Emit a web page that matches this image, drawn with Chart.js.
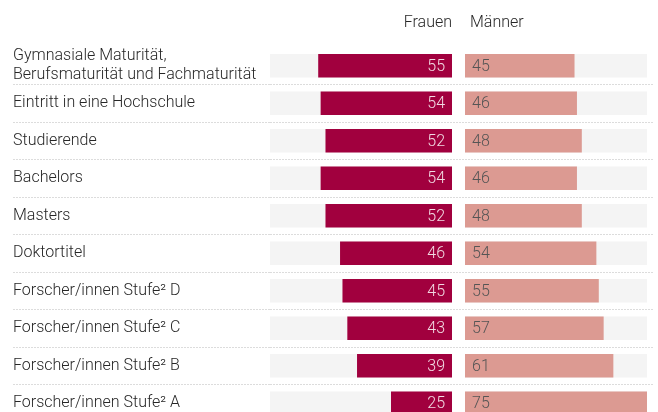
<!DOCTYPE html>
<html lang="de">
<head>
<meta charset="utf-8">
<title>Frauen und Männer</title>
<script src="https://cdn.jsdelivr.net/npm/chart.js@4.4.1/dist/chart.umd.min.js"></script>
<style>
  body { margin: 0; background: #fff; overflow: hidden; }
  #wrap { position: relative; width: 658px; height: 412px; overflow: hidden; }
  canvas { display: block; }
</style>
</head>
<body>
<div id="wrap"><canvas id="chart" width="658" height="430"></canvas></div>
<script>
// data (percent)
const categories = [
    ['Gymnasiale Maturität,', 'Berufsmaturität und Fachmaturität'],
    'Eintritt in eine Hochschule',
    'Studierende',
    'Bachelors',
    'Masters',
    'Doktortitel',
    'Forscher/innen Stufe² D',
    'Forscher/innen Stufe² C',
    'Forscher/innen Stufe² B',
    'Forscher/innen Stufe² A'
];
const frauen = [55, 54, 52, 54, 52, 46, 45, 43, 39, 25];
const maenner = [45, 46, 48, 46, 48, 54, 55, 57, 61, 75];
const seriesNames = ['Frauen', 'Männer'];
const axisMax = 75;
const track = categories.map(() => axisMax); // grey background track

// layout
const LABEL_W = 257;   // width of the label column
const PANEL_W = 182;   // width of each half
const GAP = 13;        // white gap between the halves
const FONT = 'Roboto';
const FONT_SIZE = 16;

const COL_F = '#a1003e';
const COL_M = '#dc9a92';
const COL_TRACK = '#f4f4f4';
const COL_TEXT = '#262626';
const COL_DOTS = '#dcdcdc';

// put the two x scales side by side with a gap in between
const splitPanels = {
    id: 'splitPanels',
    afterLayout(chart) {
        const area = chart.chartArea;
        const xF = chart.scales.xF;
        const xM = chart.scales.xM;
        xF.left = area.left;
        xF.right = area.left + PANEL_W;
        xF.width = PANEL_W;
        xM.left = xF.right + GAP;
        xM.right = xM.left + PANEL_W;
        xM.width = PANEL_W;
        xF.configure();
        xM.configure();
    },
    afterDatasetsDraw(chart) {
        const ctx = chart.ctx;
        ctx.save();
        ctx.font = '300 ' + FONT_SIZE + 'px ' + FONT;
        ctx.textBaseline = 'middle';

        // value labels
        chart.getDatasetMeta(0).data.forEach(function(bar, i) {
            ctx.fillStyle = 'rgba(255,255,255,0.85)';
            ctx.textAlign = 'right';
            ctx.fillText(frauen[i], bar.base - 7, bar.y + 1);
        });
        chart.getDatasetMeta(1).data.forEach(function(bar, i) {
            ctx.fillStyle = '#555555';
            ctx.textAlign = 'left';
            ctx.fillText(maenner[i], bar.base + 7, bar.y + 1);
        });

        // column headers
        ctx.fillStyle = COL_TEXT;
        ctx.textAlign = 'right';
        ctx.fillText(seriesNames[0], chart.scales.xF.right, 23);
        ctx.textAlign = 'left';
        ctx.fillText(seriesNames[1], chart.scales.xM.left + 5, 23);
        ctx.restore();
    }
};

function initialize() {
    const config = {
        type: 'bar',
        data: {
            labels: categories,
            datasets: [
                { label: seriesNames[0], data: frauen, xAxisID: 'xF', backgroundColor: COL_F, order: 1 },
                { label: seriesNames[1], data: maenner, xAxisID: 'xM', backgroundColor: COL_M, order: 1 },
                { label: 'trackF', data: track, xAxisID: 'xF', backgroundColor: COL_TRACK, order: 2 },
                { label: 'trackM', data: track, xAxisID: 'xM', backgroundColor: COL_TRACK, order: 2 }
            ]
        },
        options: {
            indexAxis: 'y',
            responsive: false,
            animation: false,
            layout: { padding: { left: 13, right: 5, top: 47, bottom: 8 } },
            datasets: {
                bar: { grouped: false, barThickness: 23, borderWidth: 0 }
            },
            scales: {
                xF: { type: 'linear', position: 'top', min: 0, max: axisMax, reverse: true, display: false },
                xM: { type: 'linear', position: 'top', min: 0, max: axisMax, display: false },
                y: {
                    type: 'category',
                    position: 'left',
                    afterFit: function(scale) {
                        scale.width = LABEL_W;
                        // rows keep an even pitch, labels may overhang
                        scale.paddingTop = 0;
                        scale.paddingBottom = 0;
                    },
                    ticks: {
                        autoSkip: false,
                        crossAlign: 'far',
                        padding: 0,
                        color: COL_TEXT,
                        font: { family: FONT, size: FONT_SIZE, weight: 300, lineHeight: 1.2 }
                    },
                    grid: {
                        offset: true,
                        color: (c) => c.index === 0 ? 'rgba(0,0,0,0)' : COL_DOTS,
                        tickColor: (c) => c.index === 0 ? 'rgba(0,0,0,0)' : COL_DOTS,
                        lineWidth: 1,
                        drawTicks: true,
                        tickLength: LABEL_W,
                        tickBorderDash: [2, 1]
                    },
                    border: { display: false, dash: [2, 1] }
                }
            },
            plugins: {
                legend: { display: false },
                tooltip: { enabled: false }
            }
        },
        plugins: [splitPanels]
    };
    new Chart(document.getElementById('chart'), config);
}

window.onload = initialize;
</script>
</body>
</html>
